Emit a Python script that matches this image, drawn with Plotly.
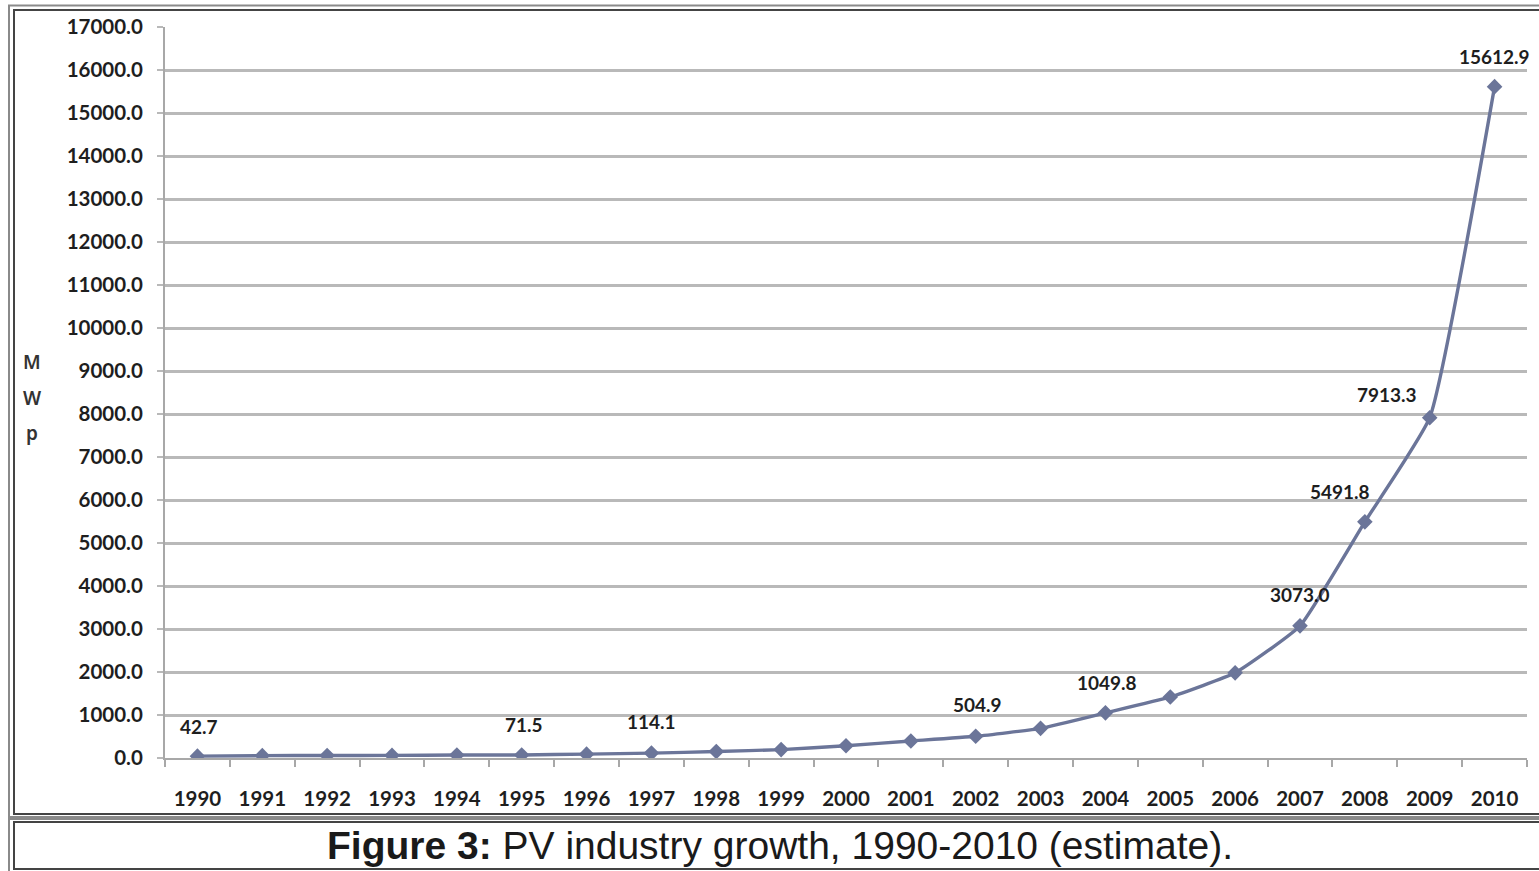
import plotly.graph_objects as go

# PV industry production, MWp
years = [str(y) for y in range(1990, 2011)]
mwp = [42.7, 55.0, 58.0, 60.0, 69.0, 71.5, 89.0, 114.1, 150.0, 195.0, 285.0,
       395.0, 504.9, 690.0, 1049.8, 1420.0, 1980.0, 3073.0, 5491.8, 7913.3, 15612.9]

# Which points carry a value label, and the label nudges (px)
label_years = ["1990", "1995", "1997", "2002", "2004", "2007", "2008", "2009", "2010"]
label_dx = [2, 2, 0, 2, 2, 0, -25, -43, 0]
label_dy = [30, 30, 32, 32, 30, 31, 30, 23, 30]

y_ticks = list(range(0, 17001, 1000))
y_ticktext = [f"{v:.1f}" for v in y_ticks]
y_title_letters = ["M", "W", "p"]
caption_bold = "Figure 3:"
caption_rest = " PV industry growth, 1990-2010 (estimate)."

W, H = 1539, 871
L, R, T, B = 165, 1527, 27, 758

LINE = "#6b7599"
GRID = "#b9b9b9"
TXT = "#1e1e1e"
TICK_FONT = dict(family="Lato", size=20.5, color=TXT, weight="bold")


def px_x(px):
    return (px - L) / (R - L)


def px_y(py):
    return (B - py) / (B - T)


fig = go.Figure()
fig.add_trace(go.Scatter(
    x=years, y=mwp, mode="lines+markers",
    line=dict(color=LINE, width=3.4, shape="spline", smoothing=0.4),
    marker=dict(symbol="diamond", size=12, color=LINE),
    hoverinfo="x+y", showlegend=False,
))

annotations = []
for yr, dx, dy in zip(label_years, label_dx, label_dy):
    i = years.index(yr)
    v = mwp[i]
    annotations.append(dict(
        x=i, y=v, xref="x", yref="y", text=f"{v:.1f}", showarrow=False,
        xanchor="center", yanchor="middle",
        xshift=dx, yshift=dy, font=dict(family="Lato", size=19, color=TXT, weight="bold"),
    ))

for i, ch in enumerate(y_title_letters):
    annotations.append(dict(
        x=px_x(32), y=px_y(362 + 35.5 * i), xref="paper", yref="paper", text=ch,
        xanchor="center", yanchor="middle",
        showarrow=False, font=dict(family="Noto Sans", size=19, color="#333333", weight=600),
    ))

annotations.append(dict(
    x=px_x(780), y=px_y(845), xref="paper", yref="paper",
    xanchor="center", yanchor="middle",
    text=f"<b>{caption_bold}</b>{caption_rest}", showarrow=False,
    font=dict(family="Liberation Sans", size=39, color="#1a1a1a"),
))

# Double-ruled frames around the chart and the caption
shapes = []
def frame(x0, y0, x1, y1, color, width):
    shapes.append(dict(type="rect", xref="paper", yref="paper",
                       x0=px_x(x0), x1=px_x(x1), y0=px_y(y0), y1=px_y(y1),
                       line=dict(color=color, width=width), fillcolor="rgba(0,0,0,0)",
                       layer="above"))

frame(9, 5.5, 1560, 817, "#8a8a8a", 2)
frame(14, 10, 1560, 814, "#444444", 2)
frame(9, 819, 1560, 875, "#8a8a8a", 2)
frame(14, 822, 1560, 869, "#444444", 2)

fig.update_layout(
    width=W, height=H,
    margin=dict(l=L, r=W - R, t=T, b=H - B),
    paper_bgcolor="white", plot_bgcolor="white",
    annotations=annotations, shapes=shapes,
    xaxis=dict(
        type="category", range=[-0.5, len(years) - 0.5],
        showline=True, linecolor="#a8a8a8", linewidth=2,
        ticks="outside", ticklen=7, tickcolor="#a8a8a8", tickwidth=1.5,
        tickson="boundaries", showgrid=False,
        tickfont=TICK_FONT, ticklabelstandoff=21,
    ),
    yaxis=dict(
        range=[0, 17000], tickvals=y_ticks, ticktext=y_ticktext,
        showline=True, linecolor="#a8a8a8", linewidth=2,
        ticks="outside", ticklen=6, tickcolor=GRID, tickwidth=2,
        showgrid=True, gridcolor=GRID, gridwidth=2.5, zeroline=False,
        tickfont=TICK_FONT, ticklabelstandoff=10,
    ),
)

fig.write_html("out.html")
